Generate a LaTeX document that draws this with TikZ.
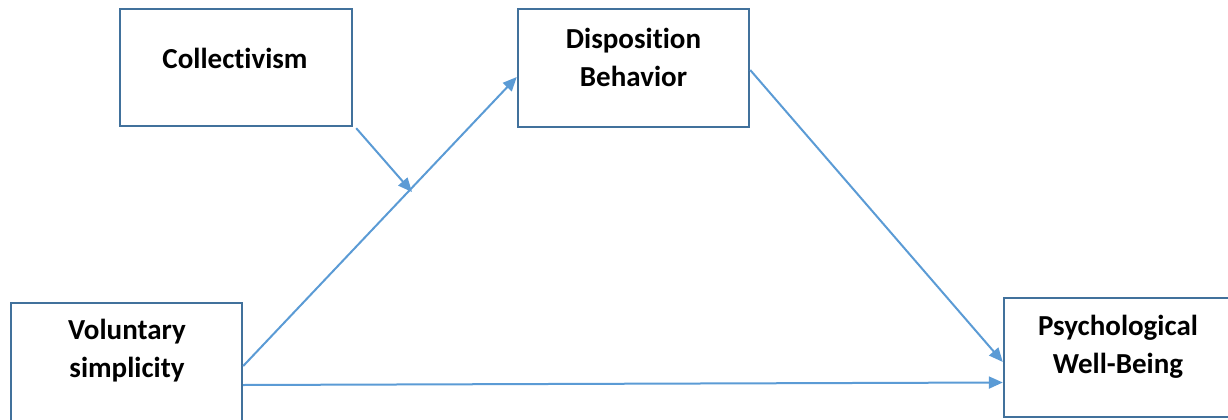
\documentclass[tikz,border=0pt]{standalone}
\usepackage{fontspec}
\setmainfont{Carlito}[Ligatures=NoCommon]
\usetikzlibrary{arrows.meta}
\definecolor{boxline}{HTML}{41719C}
\definecolor{arrowc}{HTML}{5B9BD5}
\tikzset{
  box/.style={draw=boxline, line width=2.4pt, fill=white, inner sep=0pt},
  lbl/.style={font=\fontsize{29}{38}\selectfont\bfseries, align=center, inner sep=0pt},
  conn/.style={draw=arrowc, line width=2pt, -{Triangle[length=14pt,width=12pt]}}
}
\begin{document}
\begin{tikzpicture}[x=1pt,y=-1pt]
\useasboundingbox (0,0) rectangle (1228,420);
\node[box, minimum width=232pt, minimum height=117pt] (c) at (236,67.5) {};
\node[box, minimum width=231pt, minimum height=118pt] (db) at (633.5,68) {};
\node[box, minimum width=231pt, minimum height=125pt] (vs) at (126.5,365.5) {};
\node[box, minimum width=231pt, minimum height=119pt] (pwb) at (1119.5,357.5) {};
\node[lbl] (ct) at (235,58) {Collectivism};
\node[lbl] (dbt) at (633.5,57) {Disposition\\Behavior};
\node[lbl] (vst) at (127,351) {Voluntary\\simplicity};
\node[lbl] (pwbt) at (1118,347) {Psychological\\Well-Being};
\coordinate (m) at (412,192);
\draw[conn] ([yshift=-0.5pt]vs.east) -- ([yshift=-9pt]db.west);
\draw[conn] ([shift={(3pt,-1pt)}]c.south east) -- (m);
\draw[conn] ([yshift=-2pt]db.east) -- ([yshift=-4.5pt]pwb.west);
\draw[conn] ([yshift=-19.5pt]vs.east) -- ([yshift=-25pt]pwb.west);
\end{tikzpicture}
\end{document}
